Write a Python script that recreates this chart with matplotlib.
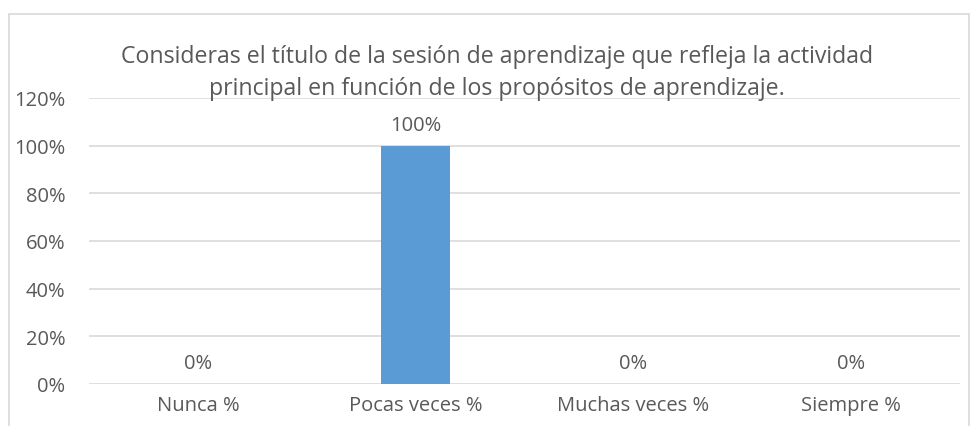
"""Bar chart of survey answers about session titles."""

import matplotlib
matplotlib.use("Agg")
import matplotlib.pyplot as plt
from matplotlib.patches import Rectangle
from matplotlib.ticker import FuncFormatter

CATEGORIES = ["Nunca %", "Pocas veces %", "Muchas veces %", "Siempre %"]
VALUES = [0.0, 1.0, 0.0, 0.0]
Y_TICKS = [0.0, 0.2, 0.4, 0.6, 0.8, 1.0, 1.2]
TITLE = ("Consideras el título de la sesión de aprendizaje que refleja la actividad\n"
         "principal en función de los propósitos de aprendizaje.")

TEXT_COLOR = "#595959"
GRID_COLOR = "#d9d9d9"
BAR_COLOR = "#5b9bd5"

plt.rcParams["font.family"] = ["Open Sans", "DejaVu Sans"]

W, H = 971, 427
fig = plt.figure(figsize=(W / 100, H / 100), dpi=100)

# chart frame
fig.patches.append(Rectangle((9 / W, -0.1), 960 / W, (H - 15) / H + 0.1,
                             transform=fig.transFigure, fill=False,
                             edgecolor=GRID_COLOR, linewidth=1.2))

ax = fig.add_axes([89 / W, 42 / H, 871 / W, 286 / H])
x = list(range(len(CATEGORIES)))
bars = ax.bar(x, VALUES, width=0.317, color=BAR_COLOR, zorder=3)

ax.set_xlim(-0.5, len(CATEGORIES) - 0.5)
ax.set_ylim(0, 1.2)
ax.set_yticks(Y_TICKS)
ax.yaxis.set_major_formatter(FuncFormatter(lambda v, _: f"{v * 100:.0f}%"))
ax.set_xticks(x)
ax.set_xticklabels(CATEGORIES)
ax.tick_params(axis="both", length=0, colors=TEXT_COLOR, labelsize=14.5)
ax.tick_params(axis="y", pad=17)
ax.tick_params(axis="x", pad=8)
ax.grid(axis="y", color=GRID_COLOR, linewidth=1.2, zorder=0)
for spine in ax.spines.values():
    spine.set_visible(False)

for bar, v in zip(bars, VALUES):
    ax.annotate(f"{v * 100:.0f}%", (bar.get_x() + bar.get_width() / 2, v),
                xytext=(0, 8), textcoords="offset points",
                ha="center", va="bottom", color=TEXT_COLOR, fontsize=14.5)

fig.text(497 / W, 1 - 73 / H, TITLE, ha="center", va="center",
         color=TEXT_COLOR, fontsize=16.7, linespacing=1.4)

fig.savefig("out.png", dpi=100)
